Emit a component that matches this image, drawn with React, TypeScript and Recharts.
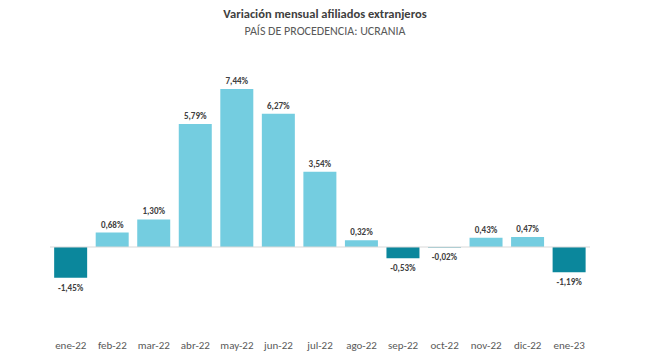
import React from 'react';
import { BarChart, Bar, XAxis, YAxis, Cell, LabelList, ReferenceLine } from 'recharts';

const months = ['ene-22', 'feb-22', 'mar-22', 'abr-22', 'may-22', 'jun-22', 'jul-22', 'ago-22', 'sep-22', 'oct-22', 'nov-22', 'dic-22', 'ene-23'];
const variation = [-1.45, 0.68, 1.3, 5.79, 7.44, 6.27, 3.54, 0.32, -0.53, -0.02, 0.43, 0.47, -1.19];

const data = months.map((m, i) => ({ month: m, value: variation[i] }));

const FONT = 'Carlito, Lato, "Open Sans", sans-serif';

const fmt = (v: number) => `${v.toFixed(2).replace('.', ',')}%`;

const ValueLabel = (props: any) => {
  const { x, y, width, height, value } = props;
  const top = Math.min(y, y + height);
  const bottom = Math.max(y, y + height);
  const cx = x + width / 2;
  const ty = value >= 0 ? top - 5 : bottom + 13;
  return (
    <text x={cx} y={ty} textAnchor="middle" fontSize={9} fontWeight={700} fill="#404040" fontFamily={FONT}>
      {fmt(value)}
    </text>
  );
};

const App: React.FC = () => {
  return (
    <div style={{ position: 'absolute', left: 0, top: 0, width: 650, height: 363, background: '#fff' }}>
      <div style={{ position: 'absolute', top: 6, width: 650, textAlign: 'center', fontFamily: FONT, fontSize: 12.5, fontWeight: 700, color: '#404040', lineHeight: '16px' }}>
        Variación mensual afiliados extranjeros
      </div>
      <div style={{ position: 'absolute', top: 23, width: 650, textAlign: 'center', fontFamily: FONT, fontSize: 12, color: '#595959', lineHeight: '16px' }}>
        PAÍS DE PROCEDENCIA: UCRANIA
      </div>
      <BarChart
        width={650}
        height={363}
        data={data}
        margin={{ top: 77, right: 60, left: 50, bottom: 0 }}
        barCategoryGap="10%"
      >
        <XAxis
          dataKey="month"
          axisLine={false}
          tickLine={false}
          tickSize={0}
          tickMargin={9}
          height={31}
          interval={0}
          tick={{ fontSize: 11, fill: '#595959', fontFamily: FONT }}
        />
        <YAxis hide domain={[-4, 8]} />
        <ReferenceLine y={0} stroke="#d9d9d9" strokeWidth={1} />
        <Bar dataKey="value" isAnimationActive={false}>
          {data.map((d) => (
            <Cell key={d.month} fill={d.value < 0 ? '#0b879c' : '#74cde0'} />
          ))}
          <LabelList dataKey="value" content={ValueLabel} />
        </Bar>
      </BarChart>
    </div>
  );
};

export default App;
